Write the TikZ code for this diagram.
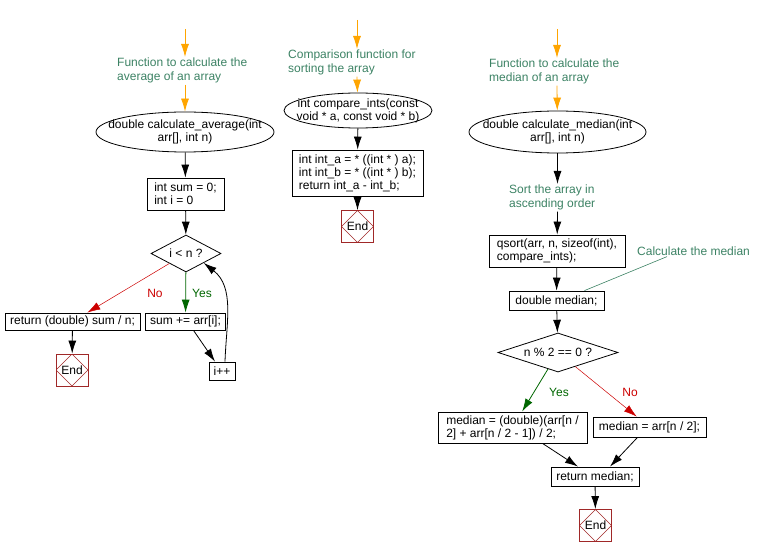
\documentclass[tikz,border=0pt]{standalone}
\usepackage{fontspec}
\setmainfont{Liberation Sans}
\usetikzlibrary{shapes.geometric,arrows.meta}
\definecolor{notegreen}{RGB}{60,130,100}
\definecolor{flowred}{RGB}{204,0,0}
\definecolor{flowgreen}{RGB}{0,102,0}
\definecolor{endred}{RGB}{160,40,40}
\definecolor{floworange}{RGB}{255,165,0}

\begin{document}
\begin{tikzpicture}[x=1pt,y=-1pt,
  font=\fontsize{12}{13}\selectfont,
  proc/.style={draw,line width=0.8pt,align=left,inner sep=2pt},
  fn/.style={draw,ellipse,line width=0.8pt,inner sep=0pt},
  fntext/.style={align=center,inner sep=0pt},
  cond/.style={draw,diamond,line width=0.8pt,inner sep=0pt},
  note/.style={text=notegreen,align=left,inner sep=1pt,anchor=north west,font=\fontsize{12}{14}\selectfont},
  endbox/.style={draw=endred,line width=0.8pt,minimum size=32pt,inner sep=0pt,
    path picture={\draw[endred,line width=0.5pt] (path picture bounding box.north) -- (path picture bounding box.east)
      -- (path picture bounding box.south) -- (path picture bounding box.west) -- cycle;}},
  arr/.style={-{Latex[length=13pt,width=8pt]},line width=0.8pt},
  oarr/.style={arr,floworange},
  yesarr/.style={arr,flowgreen},
  noarr/.style={-{Latex[length=13pt,width=8pt]},flowred,line width=0.5pt},
  noteline/.style={notegreen,line width=0.6pt}]
\useasboundingbox (0,0) rectangle (758,556);

% average
\coordinate (avgin) at (185,29);
\node[note] (avgnote) at (116,57) {Function to calculate the\\average of an array};
\node[fn,minimum width=178pt,minimum height=40pt] (avgfn) at (185,132) {};
\node[fntext] (avgfntxt) at (avgfn) {double calculate\_average(int\\arr[], int n)};
\node[proc,minimum width=77pt,minimum height=32pt] (init) at (185.5,194) {int sum = 0;\\int i = 0};
\node[cond,aspect=1.89,minimum width=70pt,minimum height=37pt] (loop) at (186,253.5) {i < n ?};
\node[proc,minimum width=135pt,minimum height=17pt] (ret) at (72.5,321.5) {return (double) sum / n;};
\node[proc,minimum width=80pt,minimum height=17pt] (sum) at (185.5,321.5) {sum += arr[i];};
\node[proc,minimum width=26pt,minimum height=18pt] (inc) at (222,371) {i++};
\node[endbox] (end1) at (72,370) {End};
\node[text=flowred] (no1) at (155,293) {No};
\node[text=flowgreen] (yes1) at (202,293) {Yes};

\draw[oarr] (avgin) -- (avgin |- avgnote.north);
\draw[oarr] (avgin |- avgnote.south) -- (avgfn);
\draw[arr] (avgfn) -- (init);
\draw[arr] (init) -- (loop);
\draw[noarr] (loop) -- (ret);
\draw[yesarr] (loop) -- (sum);
\draw[arr] (ret) -- (end1);
\draw[arr] ([xshift=8]sum.south) -- ([xshift=-7]inc.north);
\draw[arr] ([xshift=3]inc.north) to[out=88,in=-38] (loop.south east);

% compare
\coordinate (cmpin) at (357,20);
\node[note] (cmpnote) at (287,49) {Comparison function for\\sorting the array};
\node[fn,minimum width=148pt,minimum height=35pt] (cmpfn) at (358,110.5) {};
\node[fntext] (cmpfntxt) at (cmpfn) {int compare\_ints(const\\void * a, const void * b)};
\node[proc,minimum width=131pt,minimum height=46pt] (cmpbody) at (357.5,173)
  {int int\_a = * ((int * ) a);\\int int\_b = * ((int * ) b);\\return int\_a - int\_b;};
\node[endbox] (end2) at (357.5,226.5) {End};

\draw[oarr] (cmpin) -- (cmpin |- cmpnote.north);
\draw[oarr] (cmpin |- cmpnote.south) -- (cmpfn);
\draw[arr] (cmpfn) -- (cmpbody);
\draw[arr] (cmpbody) -- (end2);

% median
\coordinate (medin) at (557,29);
\node[note] (mednote) at (488,58) {Function to calculate the\\median of an array};
\node[fn,minimum width=177pt,minimum height=42pt] (medfn) at (557.5,132) {};
\node[fntext] (medfntxt) at (medfn) {double calculate\_median(int\\arr[], int n)};
\node[note] (sortnote) at (508,184) {Sort the array in\\ascending order};
\node[proc,minimum width=136pt,minimum height=32pt] (qsort) at (557,251) {qsort(arr, n, sizeof(int),\\compare\_ints);};
\node[note,anchor=west] (calcnote) at (636,251) {Calculate the median};
\node[proc,minimum width=95pt,minimum height=19pt] (dmed) at (556.5,300.5) {double median;};
\node[cond,aspect=3.08,minimum width=120pt,minimum height=39pt] (parity) at (558,352.5) {n \% 2 == 0 ?};
\node[proc,minimum width=149pt,minimum height=31pt] (evenmed) at (512.5,427.5) {median = (double)(arr[n /\\2] + arr[n / 2 - 1]) / 2;};
\node[proc,minimum width=113pt,minimum height=20pt] (oddmed) at (649.5,427) {median = arr[n / 2];};
\node[proc,minimum width=88pt,minimum height=19pt] (retmed) at (595,476.5) {return median;};
\node[endbox] (end3) at (595.5,525.5) {End};
\node[text=flowgreen] (yes2) at (559,392) {Yes};
\node[text=flowred] (no2) at (630,392) {No};

\draw[oarr] (medin) -- (medin |- mednote.north);
\draw[oarr] (medin |- mednote.south) -- (medfn);
\draw[arr] (medfn) -- (medfn |- sortnote.north);
\draw[arr] (medfn |- sortnote.south) -- (qsort);
\draw[arr] (qsort) -- (dmed);
\draw[noteline] ([xshift=31]calcnote.south west) -- ([xshift=28]dmed.north);
\draw[arr] (dmed) -- (parity);
\draw[yesarr] (parity) -- (evenmed);
\draw[noarr] (parity) -- (oddmed);
\draw[arr] ([xshift=30]evenmed.south) -- ([xshift=-17]retmed.north);
\draw[arr] ([xshift=-12]oddmed.south) -- ([xshift=15]retmed.north);
\draw[arr] (retmed) -- (end3);
\end{tikzpicture}
\end{document}
